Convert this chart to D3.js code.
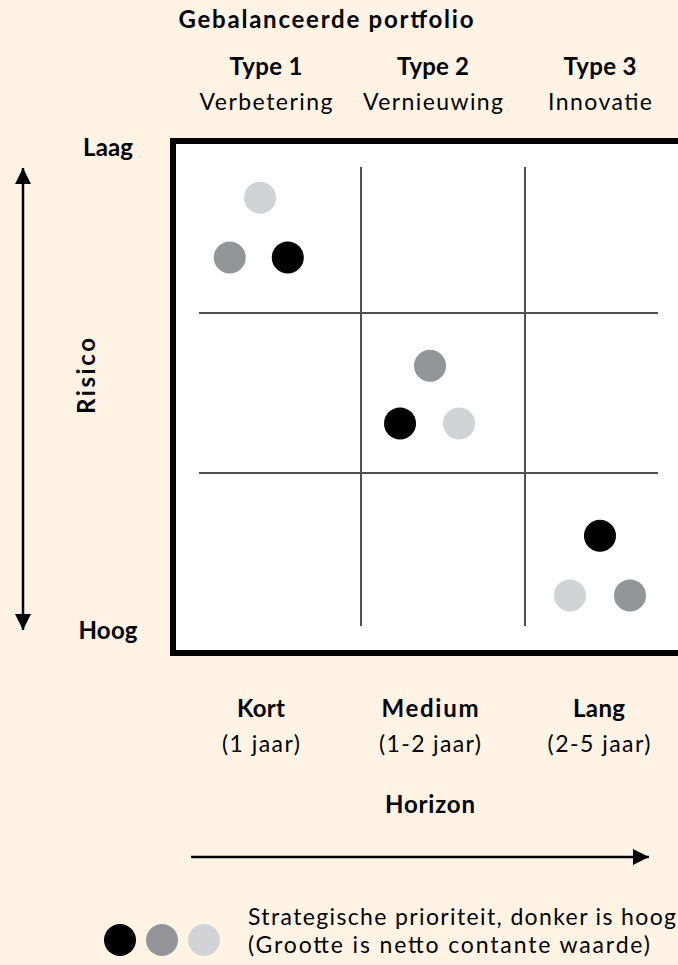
<!DOCTYPE html>
<html>
<head>
<meta charset="utf-8">
<script src="https://cdn.jsdelivr.net/npm/d3@7"></script>
<style>
  html, body { margin: 0; padding: 0; background: #fff4e4; }
  svg { display: block; font-family: Lato, "Open Sans", sans-serif; }
</style>
</head>
<body>
<script>
// ---- Data ----
const title = "Gebalanceerde portfolio";
const types = ["Type 1", "Type 2", "Type 3"];
const typeNames = ["Verbetering", "Vernieuwing", "Innovatie"];
const horizons = ["Kort", "Medium", "Lang"];
const horizonYears = ["(1 jaar)", "(1-2 jaar)", "(2-5 jaar)"];
const riskLabels = ["Laag", "Hoog"];
const riskTitle = "Risico";
const horizonTitle = "Horizon";
const legendLines = ["Strategische prioriteit, donker is hoog", "(Grootte is netto contante waarde)"];

// projects: horizon position (0-3), risk position (0-3, low→high), priority (1 = highest), NPV (relative)
const projHorizon  = [0.377, 0.19, 0.548, 1.421, 1.238, 1.598, 2.46, 2.276, 2.644];
const projRisk     = [0.21, 0.62, 0.62, 1.33, 1.69, 1.69, 2.41, 2.80, 2.80];
const projPriority = [3, 2, 1, 2, 1, 3, 1, 3, 2];
const projValue    = [1, 1, 1, 1, 1, 1, 1, 1, 1];
const priorities = [1, 2, 3];
const gridBreaks = [1, 2];

const W = 678, H = 965;
const BOLD = 24, REG = 23;
const svg = d3.select("body").append("svg").attr("width", W).attr("height", H);
svg.append("rect").attr("width", W).attr("height", H).attr("fill", "#fff4e4");

// fit text to a measured width by adjusting spacing
function fit(sel, w) {
  sel.each(function(d, i) {
    const target = typeof w === "function" ? w(d, i) : w;
    d3.select(this).attr("textLength", target).attr("lengthAdjust", "spacing");
  });
  return sel;
}

// ---- Scales ----
const x = d3.scaleLinear().domain([0, 1, 2, 3]).range([199, 361, 525, 688]);
const y = d3.scaleLinear().domain([0, 1, 2, 3]).range([167, 313, 473, 626]);
const r = d3.scaleSqrt().domain([0, 1]).range([0, 16]);
const color = d3.scaleOrdinal().domain(priorities).range(["#000000", "#939598", "#d1d3d4"]);
const headX = d3.scalePoint().domain(types).range([266, 600]);
const footX = d3.scalePoint().domain(horizons).range([261, 599]);

// ---- Box ----
svg.append("rect")
  .attr("x", 173).attr("y", 141)
  .attr("width", 540).attr("height", 512)
  .attr("fill", "#ffffff").attr("stroke", "#000").attr("stroke-width", 6);

// grid lines
svg.append("g").selectAll("line").data(gridBreaks).join("line")
  .attr("x1", d => x(d)).attr("x2", d => x(d))
  .attr("y1", y(0)).attr("y2", y(3))
  .attr("stroke", "#505050").attr("stroke-width", 2);
svg.append("g").selectAll("line").data(gridBreaks).join("line")
  .attr("y1", d => y(d)).attr("y2", d => y(d))
  .attr("x1", x(0)).attr("x2", x(3) - 30)
  .attr("stroke", "#505050").attr("stroke-width", 2);

// project circles
svg.append("g").selectAll("circle").data(d3.range(projHorizon.length)).join("circle")
  .attr("cx", i => x(projHorizon[i]))
  .attr("cy", i => y(projRisk[i]))
  .attr("r", i => r(projValue[i]))
  .attr("fill", i => color(projPriority[i]));

// ---- Title and headers ----
fit(svg.append("text").attr("x", 326).attr("y", 28)
  .attr("text-anchor", "middle").attr("font-weight", "bold").attr("font-size", BOLD)
  .attr("fill", "#000").text(title), 295);

const head = svg.append("g").selectAll("g").data(types).join("g");
fit(head.append("text").attr("x", d => headX(d)).attr("y", 75)
  .attr("text-anchor", "middle").attr("font-weight", "bold").attr("font-size", BOLD)
  .text(d => d), (d, i) => [73, 72, 73][i]);
fit(head.append("text").attr("x", d => headX(d)).attr("y", 110)
  .attr("text-anchor", "middle").attr("font-size", REG)
  .text((d, i) => typeNames[i]), (d, i) => [133, 140, 104][i]);

// ---- Risk axis ----
fit(svg.append("text").attr("x", 108).attr("y", 156)
  .attr("text-anchor", "middle").attr("font-weight", "bold").attr("font-size", BOLD)
  .text(riskLabels[0]), 50);
fit(svg.append("text").attr("x", 108).attr("y", 639)
  .attr("text-anchor", "middle").attr("font-weight", "bold").attr("font-size", BOLD)
  .text(riskLabels[1]), 59);
fit(svg.append("text")
  .attr("transform", "translate(95,376) rotate(-90)")
  .attr("text-anchor", "middle").attr("font-weight", "bold").attr("font-size", BOLD)
  .text(riskTitle), 76);

const defs = svg.append("defs");
defs.append("marker").attr("id", "ah")
  .attr("viewBox", "0 0 10 10").attr("refX", 10).attr("refY", 5)
  .attr("markerUnits", "userSpaceOnUse")
  .attr("markerWidth", 16).attr("markerHeight", 17)
  .attr("orient", "auto-start-reverse")
  .append("path").attr("d", "M0,0 L10,5 L0,10 Z").attr("fill", "#000");

svg.append("line")
  .attr("x1", 23).attr("x2", 23).attr("y1", 168).attr("y2", 630)
  .attr("stroke", "#000").attr("stroke-width", 2.5)
  .attr("marker-start", "url(#ah)").attr("marker-end", "url(#ah)");

// ---- Horizon axis ----
const foot = svg.append("g").selectAll("g").data(horizons).join("g");
fit(foot.append("text").attr("x", d => footX(d)).attr("y", 717)
  .attr("text-anchor", "middle").attr("font-weight", "bold").attr("font-size", BOLD)
  .text(d => d), (d, i) => [48, 97, 52][i]);
fit(foot.append("text").attr("x", d => footX(d)).attr("y", 752)
  .attr("text-anchor", "middle").attr("font-size", REG)
  .text((d, i) => horizonYears[i]), (d, i) => [78, 102, 103][i]);

fit(svg.append("text").attr("x", 430).attr("y", 813)
  .attr("text-anchor", "middle").attr("font-weight", "bold").attr("font-size", BOLD)
  .text(horizonTitle), 90);

svg.append("line")
  .attr("x1", 191).attr("x2", 649).attr("y1", 857).attr("y2", 857)
  .attr("stroke", "#000").attr("stroke-width", 2.5)
  .attr("marker-end", "url(#ah)");

// ---- Legend ----
const legX = d3.scalePoint().domain(priorities).range([120, 204]);
svg.append("g").selectAll("circle").data(priorities).join("circle")
  .attr("cx", d => legX(d)).attr("cy", 940).attr("r", r(1))
  .attr("fill", d => color(d));
fit(svg.append("g").selectAll("text").data(legendLines).join("text")
  .attr("x", 248).attr("y", (d, i) => 925 + i * 28)
  .attr("font-size", REG).text(d => d), (d, i) => [428, 402][i]);
</script>
</body>
</html>
